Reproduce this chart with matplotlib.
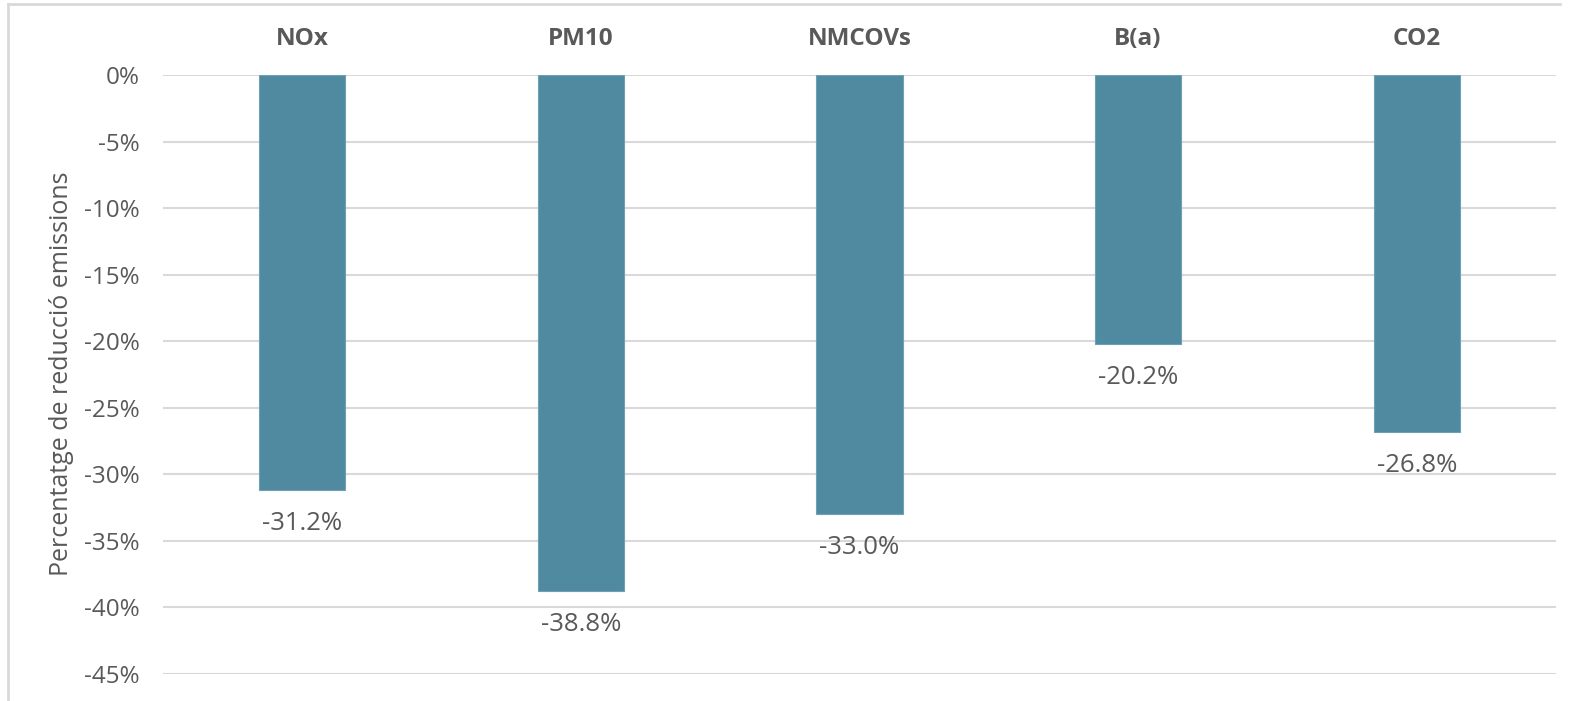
import matplotlib
matplotlib.use("Agg")
import matplotlib.pyplot as plt
from matplotlib.lines import Line2D
import numpy as np

categories = ["NOx", "PM10", "NMCOVs", "B(a)", "CO2"]
values = [-31.2, -38.8, -33.0, -20.2, -26.8]
yticks = [0, -5, -10, -15, -20, -25, -30, -35, -40, -45]
ylabel = "Percentatge de reducció emissions"

plt.rcParams['font.family'] = ['Open Sans', 'DejaVu Sans']
txt = "#595959"
W, H = 1583, 701
fig = plt.figure(figsize=(W / 100, H / 100), dpi=100)
ax = fig.add_axes([163 / W, 1 - 674 / H, (1556 - 163) / W, (674 - 75) / H])

x = np.arange(len(categories))
bars = ax.bar(x, values, width=0.31, color="#4F8AA0", edgecolor="#6F9FB3", linewidth=0.8, zorder=3)
for xi, v in zip(x, values):
    ax.annotate(f"{v:.1f}%", (xi, v), xytext=(0, -15), textcoords="offset points",
                ha="center", va="top", fontsize=18.5, color=txt)

ax.set_xlim(-0.5, len(categories) - 0.5)
ax.set_ylim(-45, 0)
ax.set_yticks(yticks)
ax.set_yticklabels([f"{t}%" for t in yticks], fontsize=17.5, color=txt)
ax.yaxis.grid(True, color="#D9D9D9", linewidth=1.5, zorder=0)
ax.tick_params(axis="y", length=0, pad=17)
ax.xaxis.tick_top()
ax.set_xticks(x)
ax.set_xticklabels(categories, fontsize=17.5, fontweight="bold", color=txt)
ax.tick_params(axis="x", length=0, pad=17)
for s in ax.spines.values():
    s.set_visible(False)
ax.set_axisbelow(True)

fig.text(62 / W, 1 - 374 / H, ylabel, rotation=90, ha="center", va="center",
         fontsize=18, color=txt)

fig.add_artist(Line2D([8 / W, 8 / W], [0, 1 - 4 / H], transform=fig.transFigure,
                      color="#D9D9D9", linewidth=2))
fig.add_artist(Line2D([8 / W, 1560 / W], [1 - 4 / H, 1 - 4 / H], transform=fig.transFigure,
                      color="#D9D9D9", linewidth=2))

fig.savefig("out.png", dpi=100, facecolor="white")
